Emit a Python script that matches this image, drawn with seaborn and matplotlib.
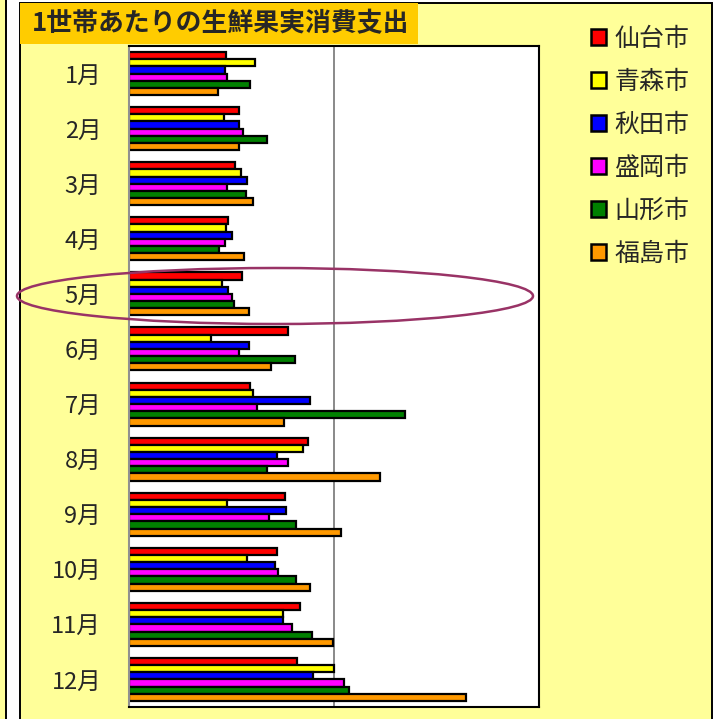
import matplotlib
matplotlib.use("Agg")
import matplotlib.pyplot as plt
from matplotlib.patches import Rectangle, Ellipse
import pandas as pd
import seaborn as sns

# Monthly fresh-fruit spending per household, by city
months = [f"{m}月" for m in range(1, 13)]
cities = ["仙台市", "青森市", "秋田市", "盛岡市", "山形市", "福島市"]
colors = ["#FF0000", "#FFFF00", "#0000FF", "#FF00FF", "#008000", "#FF9900"]

sendai    = [471, 539, 515, 485, 549, 775, 588, 873, 760, 721, 833, 819]
aomori    = [613, 461, 544, 471, 456, 402, 603, 848, 480, 574, 750, 1000]
akita     = [466, 539, 574, 500, 485, 583, 882, 721, 765, 711, 750, 897]
morioka   = [480, 554, 480, 466, 500, 539, 623, 775, 681, 725, 794, 1049]
yamagata  = [588, 672, 569, 441, 510, 809, 1348, 672, 814, 814, 892, 1074]
fukushima = [436, 539, 603, 559, 583, 691, 755, 1225, 1034, 882, 995, 1642]

series = [sendai, aomori, akita, morioka, yamagata, fukushima]
rows = []
for city, vals in zip(cities, series):
    for m, v in zip(months, vals):
        rows.append({"月": m, "都市": city, "支出": v})
df = pd.DataFrame(rows)

sns.set_style("white")
plt.rcParams["font.family"] = ["Noto Sans CJK JP", "DejaVu Sans"]

W, H = 723, 719
fig = plt.figure(figsize=(W / 100, H / 100), dpi=100, facecolor="white")


def fx(x):
    return x / W


def fy(y):
    return 1 - y / H


# chart background panels
fig.add_artist(Rectangle((-0.01, -0.05), fx(6) + 0.01, 1.1, transform=fig.transFigure,
                         fc="#FFFF99", ec="black", lw=1.4, zorder=-2))
fig.add_artist(Rectangle((fx(19.5), -0.05), fx(712) - fx(19.5), fy(3) + 0.05,
                         transform=fig.transFigure, fc="#FFFF99", ec="black", lw=1.4, zorder=-2))

ax = fig.add_axes([fx(129), fy(707), fx(539) - fx(129), fy(46) - fy(707)])
ax.set_facecolor("white")

sns.barplot(data=df, y="月", x="支出", hue="都市", order=months, hue_order=cities,
            palette=colors, orient="h", errorbar=None, width=0.78,
            edgecolor="black", linewidth=1.6, saturation=1, ax=ax, legend=False)

ax.set_xlim(0, 2000)
ax.set_ylim(11.5, -0.5)
ax.set_xticks([1000])
ax.set_xticklabels([])
ax.tick_params(axis="x", length=0)
ax.xaxis.grid(True, color="#808080", lw=1.3)
ax.set_axisbelow(True)
ax.set_xlabel("")
ax.set_ylabel("")

ax.set_yticks(range(12))
ax.set_yticklabels(months, fontsize=17)
ax.tick_params(axis="y", which="major", length=0, pad=20)
ax.set_yticks([i - 0.5 for i in range(13)], minor=True)
ax.tick_params(axis="y", which="minor", length=6, width=1.3, color="#909090")

for side in ["top", "right", "bottom"]:
    ax.spines[side].set_color("black")
    ax.spines[side].set_linewidth(1.5)
    ax.spines[side].set_visible(True)
ax.spines["left"].set_color("#909090")
ax.spines["left"].set_linewidth(1.5)

# title box
fig.add_artist(Rectangle((fx(20), fy(44)), fx(418) - fx(20), fy(3) - fy(44),
                         transform=fig.transFigure, fc="#FFCC00", ec="none", zorder=5))
fig.text(fx(32), fy(24), "1世帯あたりの生鮮果実消費支出", fontsize=18.6, fontweight="bold",
         ha="left", va="center", zorder=6)

# legend
handles = [Rectangle((0, 0), 1, 1, fc=c, ec="black", lw=1.8) for c in colors]
fig.legend(handles, cities, loc="upper left", bbox_to_anchor=(fx(581), fy(16)),
           frameon=False, fontsize=18, handlelength=0.6, handleheight=0.6,
           handletextpad=0.35, labelspacing=0.68, borderaxespad=0)

# highlight around May
fig.add_artist(Ellipse((fx(275), fy(296)), fx(516), 56 / H, transform=fig.transFigure,
                       fill=False, ec="#993366", lw=1.8, zorder=7))

fig.savefig("out.png", dpi=100, facecolor="white")
